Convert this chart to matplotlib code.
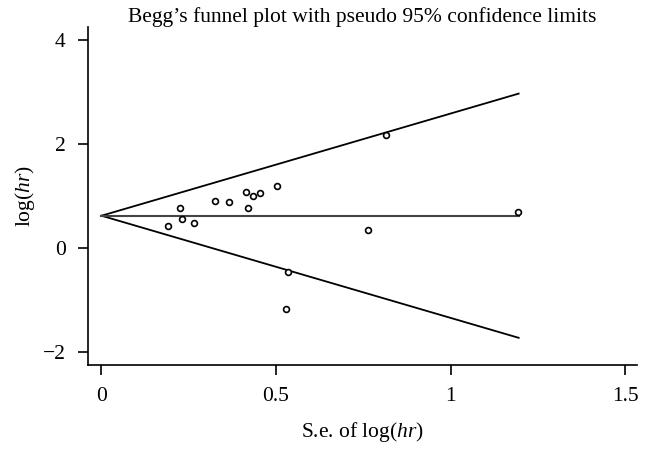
import matplotlib
matplotlib.use("Agg")
import matplotlib.pyplot as plt
import numpy as np

plt.rcParams['font.family'] = ['Liberation Serif', 'DejaVu Serif']
plt.rcParams['mathtext.fontset'] = 'custom'
plt.rcParams['mathtext.rm'] = 'Liberation Serif'
plt.rcParams['mathtext.it'] = 'Liberation Serif:italic'

# study data: standard error of log(hr) and log(hr)
se = [0.190, 0.226, 0.231, 0.264, 0.325, 0.366, 0.414, 0.420, 0.433, 0.455,
      0.502, 0.816, 0.763, 1.194, 0.534, 0.529]
loghr = [0.43, 0.77, 0.555, 0.48, 0.90, 0.874, 1.07, 0.77, 1.00, 1.047,
         1.187, 2.17, 0.34, 0.69, -0.466, -1.174]

pooled = 0.62
se_max = 1.195
z = 1.96

xticks = [0, 0.5, 1, 1.5]
xticklabels = ["0", "0.5", "1", "1.5"]
yticks = [-2, 0, 2, 4]
yticklabels = ["\u22122", "0", "2", "4"]

fig = plt.figure(figsize=(6.51, 4.50), dpi=100)
ax = fig.add_axes([0.135, 0.19, 0.8435, 0.75])

sx = np.array([0, se_max])
ax.plot(sx, pooled + z * sx, color='black', lw=1.3)
ax.plot(sx, pooled - z * sx, color='black', lw=1.3)
ax.plot(sx, [pooled, pooled], color='#444444', lw=1.5)
ax.plot(se, loghr, linestyle='none', marker='o', markersize=4.2,
        markerfacecolor='white', markeredgecolor='black', markeredgewidth=1.2)

ax.set_xlim(-0.039, 1.534)
ax.set_ylim(-2.234, 4.24)
ax.set_xticks(xticks)
ax.set_xticklabels(xticklabels)
ax.set_yticks(yticks)
ax.set_yticklabels(yticklabels)
ax.spines['top'].set_visible(False)
ax.spines['right'].set_visible(False)
for s in ['left', 'bottom']:
    ax.spines[s].set_linewidth(1.2)
ax.tick_params(axis='both', direction='out', length=7, width=1.2,
               labelsize=15.5, pad=9)

ax.set_xlabel(r"S.e. of log($\mathit{hr}$)", fontsize=15.5, labelpad=10)
ax.set_ylabel(r"log($\mathit{hr}$)", fontsize=15.5, labelpad=4)
ax.set_title("Begg\u2019s funnel plot with pseudo 95% confidence limits",
             fontsize=15.5, pad=2)

fig.savefig("out.png", dpi=100)
